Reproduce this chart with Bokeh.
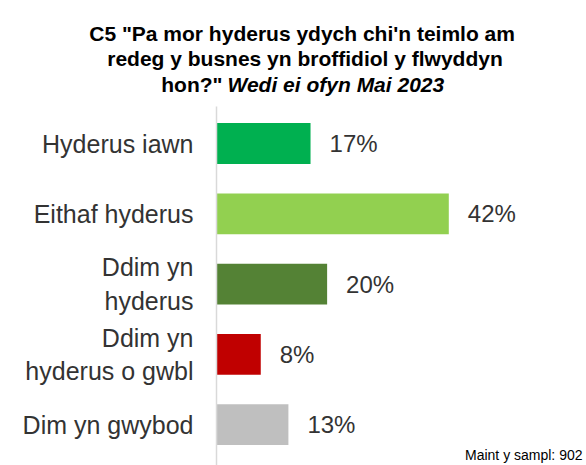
from bokeh.plotting import figure
from bokeh.models import Range1d, Label, ColumnDataSource, LinearAxis, FixedTicker
from bokeh.core.properties import value
from bokeh.embed import file_html
from bokeh.resources import INLINE

categories = ["Hyderus iawn", "Eithaf hyderus", "Ddim yn\nhyderus", "Ddim yn\nhyderus o gwbl", "Dim yn gwybod"]
values = [17, 42, 20, 8, 13]
value_labels = ["17%", "42%", "20%", "8%", "13%"]
colors = ["#00b050", "#92d050", "#548235", "#c00000", "#bfbfbf"]

title_lines = ["C5 \"Pa mor hyderus ydych  chi'n teimlo am",
               "redeg y busnes yn broffidiol y flwyddyn"]
title_line3_a = "hon?\""
title_line3_b = "Wedi ei ofyn Mai 2023"
footnote = "Maint y sampl: 902"

FONT = "Liberation Sans"
W, H = 586, 465

# category positions: first category on top
ypos = [len(categories) - 1 - i for i in range(len(categories))]

src = ColumnDataSource(dict(y=ypos, cat=categories, val=values, lab=value_labels, col=colors))

p = figure(width=W, height=H, output_backend="svg", toolbar_location=None,
           x_range=Range1d(-39.06, 66.9), y_range=Range1d(-0.58, 6.034),
           x_axis_location=None, y_axis_location=None,
           min_border_left=0, min_border_right=0, min_border_top=0, min_border_bottom=0)

p.hbar(y="y", right="val", left=0, height=0.58, fill_color="col", line_color=None, source=src)
p.text(x="val", y="y", text="lab", source=src, x_offset=19, text_baseline="middle",
       text_align="left", text_font=value(FONT), text_font_size="24px", text_color="#333333")

p.xgrid.visible = False
p.ygrid.visible = False
p.outline_line_color = None

yax = LinearAxis(fixed_location=0, ticker=FixedTicker(ticks=ypos),
                 major_label_overrides={y: c for y, c in zip(ypos, categories)},
                 bounds=(-0.58, 4.53))
yax.axis_line_color = "#d9d9d9"
yax.axis_line_width = 1.5
yax.major_tick_line_color = None
yax.minor_tick_line_color = None
yax.major_label_standoff = 17
yax.major_label_text_font = FONT
yax.major_label_text_font_size = "25px"
yax.major_label_text_color = "#333333"
p.add_layout(yax, "left")

# frame covers the whole canvas: screen y counts up from the bottom
cx = 304.5
for t, cy in zip(title_lines, [33, 58]):
    p.add_layout(Label(x=cx, y=H - cy, x_units="screen", y_units="screen", text=t,
                       text_align="center", text_baseline="alphabetic", text_font=FONT,
                       text_font_size="21px", text_font_style="bold", text_color="#000000"))
p.add_layout(Label(x=222, y=H - 84, x_units="screen", y_units="screen", text=title_line3_a,
                   text_align="right", text_baseline="alphabetic", text_font=FONT,
                   text_font_size="21px", text_font_style="bold", text_color="#000000"))
p.add_layout(Label(x=227, y=H - 84, x_units="screen", y_units="screen", text=title_line3_b,
                   text_align="left", text_baseline="alphabetic", text_font=FONT,
                   text_font_size="21px", text_font_style="bold italic", text_color="#000000"))
p.add_layout(Label(x=582, y=H - 454, x_units="screen", y_units="screen", text=footnote,
                   text_align="right", text_baseline="alphabetic", text_font=FONT,
                   text_font_size="14px", text_color="#000000"))

open("out.html", "w").write(file_html(p, INLINE))
